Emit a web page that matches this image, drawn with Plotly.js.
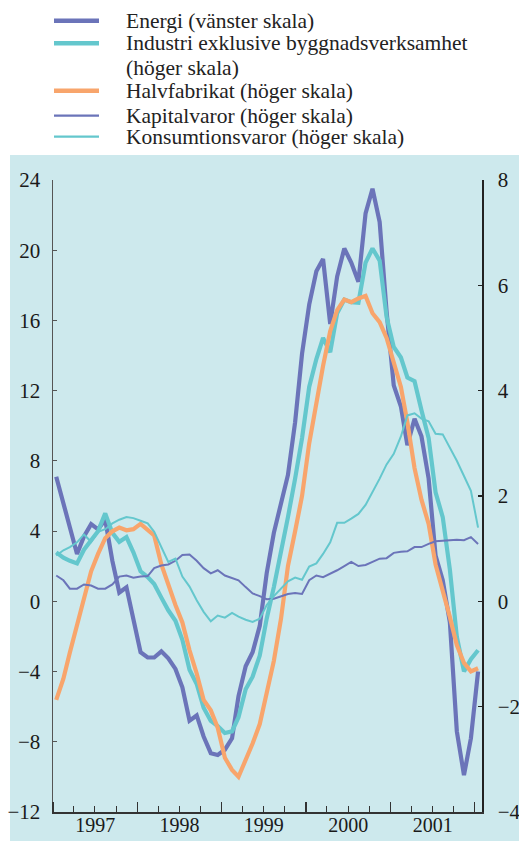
<!DOCTYPE html>
<html>
<head>
<meta charset="utf-8">
<script src="https://cdn.plot.ly/plotly-3.0.1.min.js"></script>
<style>html,body{margin:0;padding:0;background:#fff;}#chart{width:519px;height:841px;}</style>
</head>
<body>
<div id="chart"></div>
<script>
const months = [
"1997-01-15","1997-02-15","1997-03-15","1997-04-15","1997-05-15","1997-06-15","1997-07-15","1997-08-15","1997-09-15","1997-10-15","1997-11-15","1997-12-15",
"1998-01-15","1998-02-15","1998-03-15","1998-04-15","1998-05-15","1998-06-15","1998-07-15","1998-08-15","1998-09-15","1998-10-15","1998-11-15","1998-12-15",
"1999-01-15","1999-02-15","1999-03-15","1999-04-15","1999-05-15","1999-06-15","1999-07-15","1999-08-15","1999-09-15","1999-10-15","1999-11-15","1999-12-15",
"2000-01-15","2000-02-15","2000-03-15","2000-04-15","2000-05-15","2000-06-15","2000-07-15","2000-08-15","2000-09-15","2000-10-15","2000-11-15","2000-12-15",
"2001-01-15","2001-02-15","2001-03-15","2001-04-15","2001-05-15","2001-06-15","2001-07-15","2001-08-15","2001-09-15","2001-10-15","2001-11-15","2001-12-15",
"2002-01-15"];

// Energi (vänster skala)
const energi = [7.1,5.6,4.2,2.7,3.7,4.4,4.1,4.65,2.3,0.5,0.8,-0.9,
-2.9,-3.2,-3.2,-2.85,-3.25,-3.85,-4.9,-6.8,-6.5,-7.7,-8.65,-8.75,
-8.45,-7.8,-5.4,-3.7,-2.9,-1.4,1.6,3.9,5.5,7.2,10.2,14.1,
16.9,18.8,19.5,15.8,18.5,20.1,19.3,18.2,22.1,23.5,21.6,16.5,
12.3,11.1,8.9,10.4,9.4,7.0,2.6,1.2,-1.2,-7.4,-9.9,-7.8,-4.0];

// Industri exklusive byggnadsverksamhet (höger skala)
const industri = [0.93,0.83,0.77,0.72,0.98,1.15,1.33,1.67,1.3,1.13,1.22,0.93,
0.57,0.46,0.33,0.07,-0.17,-0.37,-0.73,-1.3,-1.57,-2.02,-2.27,-2.37,
-2.5,-2.47,-2.2,-1.67,-1.43,-1.03,-0.33,0.27,0.93,1.6,2.33,3.1,
4.07,4.6,5.0,4.73,5.47,5.73,5.68,5.67,6.43,6.7,6.47,5.4,
4.83,4.63,4.25,4.18,3.63,3.1,2.07,1.6,0.6,-0.67,-1.33,-1.1,-0.93];

// Halvfabrikat (höger skala)
const halvfabrikat = [-1.87,-1.47,-0.97,-0.47,0.07,0.57,0.9,1.2,1.33,1.4,1.35,1.37,
1.47,1.35,1.25,0.7,0.3,-0.07,-0.4,-0.93,-1.37,-1.87,-2.07,-2.4,
-2.97,-3.2,-3.33,-3.03,-2.7,-2.33,-1.72,-1.13,-0.33,0.67,1.33,2.0,
3.0,3.77,4.47,5.13,5.53,5.73,5.68,5.75,5.8,5.47,5.3,5.0,
4.5,4.07,3.4,2.53,1.93,1.47,0.7,0.23,-0.3,-0.83,-1.17,-1.33,-1.27];

// Kapitalvaror (höger skala)
const kapitalvaror = [0.49,0.4,0.24,0.24,0.32,0.3,0.24,0.24,0.32,0.47,0.49,0.45,
0.47,0.48,0.63,0.68,0.7,0.77,0.88,0.89,0.77,0.63,0.53,0.59,
0.49,0.45,0.4,0.27,0.15,0.1,0.04,0.05,0.09,0.14,0.16,0.14,
0.4,0.49,0.46,0.52,0.59,0.67,0.75,0.67,0.69,0.75,0.81,0.82,
0.92,0.94,0.95,1.03,1.03,1.09,1.14,1.15,1.16,1.17,1.16,1.22,1.09];

// Konsumtionsvaror (höger skala)
const konsumtionsvaror = [0.87,0.97,1.03,1.12,1.27,1.13,1.32,1.37,1.48,1.55,1.6,1.58,
1.53,1.48,1.32,1.03,0.75,0.81,0.47,0.28,0.02,-0.2,-0.38,-0.27,
-0.31,-0.22,-0.29,-0.35,-0.39,-0.33,-0.07,0.1,0.25,0.38,0.45,0.41,
0.66,0.72,0.9,1.12,1.49,1.49,1.57,1.66,1.83,2.07,2.33,2.6,
2.8,3.13,3.53,3.57,3.47,3.42,3.18,3.17,2.93,2.67,2.38,2.1,1.4];

const legendLabels = ["Energi (vänster skala)","Industri exklusive byggnadsverksamhet","(höger skala)","Halvfabrikat (höger skala)","Kapitalvaror (höger skala)","Konsumtionsvaror (höger skala)"];

const PURPLE = "#6b74b9", CYAN = "#64c7cd", ORANGE = "#f8a56c", BG = "#cde9ed";
const FONT = "'Liberation Serif', 'Times New Roman', serif";
const W = 519, H = 841, ML = 53, MR = 37, MT = 180, MB = 29;
const PW = W - ML - MR, PH = H - MT - MB;
const X = px => (px - ML) / PW;
const Y = py => (H - MB - py) / PH;

const traces = [
  {x: months, y: energi, yaxis: "y", mode: "lines", line: {color: PURPLE, width: 4.2}},
  {x: months, y: industri, yaxis: "y2", mode: "lines", line: {color: CYAN, width: 4.2}},
  {x: months, y: halvfabrikat, yaxis: "y2", mode: "lines", line: {color: ORANGE, width: 4.2}},
  {x: months, y: kapitalvaror, yaxis: "y2", mode: "lines", line: {color: PURPLE, width: 2}},
  {x: months, y: konsumtionsvaror, yaxis: "y2", mode: "lines", line: {color: CYAN, width: 2}}
];

const legendItems = [
  {y: 20.7, color: PURPLE, w: 4.5},
  {y: 43.3, color: CYAN, w: 4.5},
  {y: 90.7, color: ORANGE, w: 4.5},
  {y: 115.7, color: PURPLE, w: 2.2},
  {y: 136.7, color: CYAN, w: 2.2}
];
const legendTextY = [20.7, 43.3, 67.5, 90.7, 115.7, 136.7];

const shapes = [
  {type: "rect", xref: "paper", yref: "paper", x0: X(10), x1: X(519), y0: Y(841), y1: Y(155), fillcolor: BG, line: {width: 0}, layer: "below"}
].concat(legendItems.map(it => ({
  type: "line", xref: "paper", yref: "paper", x0: X(54), x1: X(99), y0: Y(it.y), y1: Y(it.y),
  line: {color: it.color, width: it.w}
})));

const annotations = legendLabels.map((t, i) => ({
  text: t, xref: "paper", yref: "paper", x: X(124), y: Y(legendTextY[i]),
  xanchor: "left", yanchor: "middle", showarrow: false,
  font: {family: FONT, size: 21.5, color: "#222"}
}));

const tickFontY = {family: FONT, size: 21, color: "#1a1a1a"};
const tickFontX = {family: FONT, size: 20, color: "#1a1a1a"};

const layout = {
  width: W, height: H,
  margin: {l: ML, r: MR, t: MT, b: MB, pad: 0},
  paper_bgcolor: "#ffffff",
  plot_bgcolor: "rgba(0,0,0,0)",
  showlegend: false,
  xaxis: {
    type: "date", range: ["1997-01-01", "2002-02-01"],
    tick0: "1997-01-01", dtick: "M12", tickformat: "%Y", ticklabelmode: "period",
    ticks: "inside", ticklen: 10, tickwidth: 1.2, tickcolor: "#333",
    minor: {dtick: "M3", tick0: "1997-01-01", ticks: "inside", ticklen: 6, tickwidth: 1, tickcolor: "#333", showgrid: false},
    showline: true, linecolor: "#333", linewidth: 1.5,
    showgrid: false, zeroline: false, tickfont: tickFontX, ticklabelstandoff: -6,
    fixedrange: true
  },
  yaxis: {
    range: [-12, 24], tick0: 0, dtick: 4,
    ticks: "inside", ticklen: 4, tickwidth: 1.2, tickcolor: "#555",
    showline: true, linecolor: "#555", linewidth: 1.5,
    showgrid: false, zeroline: false, tickfont: tickFontY, ticklabelstandoff: 7
  },
  yaxis2: {
    range: [-4, 8], tick0: 0, dtick: 2, overlaying: "y", side: "right",
    ticks: "inside", ticklen: 4, tickwidth: 1.2, tickcolor: "#222",
    showline: true, linecolor: "#222", linewidth: 1.5,
    showgrid: false, zeroline: false, tickfont: tickFontY, ticklabelstandoff: 10
  },
  shapes: shapes,
  annotations: annotations
};

Plotly.newPlot("chart", traces, layout, {staticPlot: true, displayModeBar: false});
</script>
</body>
</html>
